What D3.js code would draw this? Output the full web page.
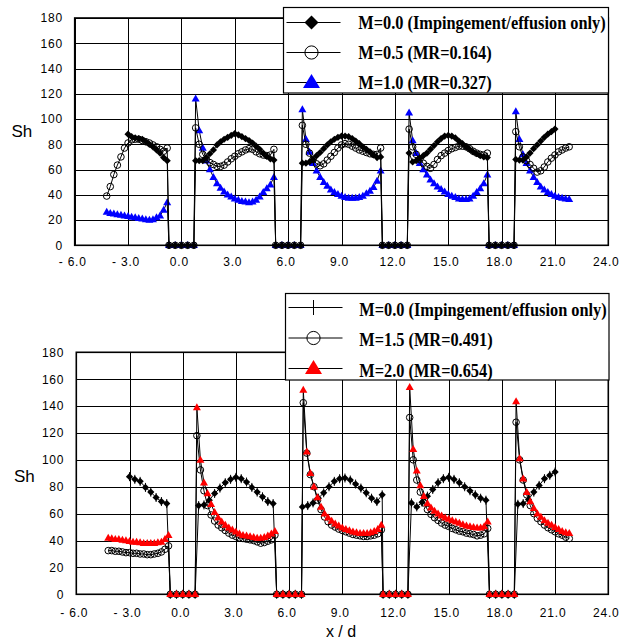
<!DOCTYPE html>
<html>
<head>
<meta charset="utf-8">
<script src="https://cdnjs.cloudflare.com/ajax/libs/d3/7.8.5/d3.min.js"></script>
<style>
  body { margin: 0; background: #fff; }
  svg { display: block; }
  .axis text { font-family: "Liberation Sans", Arial, sans-serif; font-size: 12px; letter-spacing: 0.8px; fill: #000; }
  .axis line { stroke: #000; stroke-width: 1; shape-rendering: crispEdges; }
  .axis path.domain { display: none; }
  .axis-title { font-family: "Liberation Sans", Arial, sans-serif; font-size: 17px; fill: #000; }
  .legend-text { font-family: "Liberation Serif", "Times New Roman", serif; font-weight: bold; font-size: 18px; fill: #000; }
</style>
</head>
<body>
<div id="chart-area"></div>
<script>
// axis ticks
var xTicks = [-6, -3, 0, 3, 6, 9, 12, 15, 18, 21, 24];
var xTickLabels = ["- 6.0", "- 3.0", "0.0", "3.0", "6.0", "9.0", "12.0", "15.0", "18.0", "21.0", "24.0"];
var yTicks = [0, 20, 40, 60, 80, 100, 120, 140, 160, 180];

// stations on the walls, where Sh = 0 for every case
var wallX = [-0.7, -0.35, 0, 0.35, 0.7, 5.3, 5.65, 6, 6.35, 6.7,
             11.3, 11.65, 12, 12.35, 12.7, 17.3, 17.65, 18, 18.35, 18.7];

// station spacing along x/d
var step = 0.2;
var stepSparse = 0.3;

// upper chart
var topLegend = ["M=0.0 (Impingement/effusion only)", "M=0.5 (MR=0.164)", "M=1.0 (MR=0.327)"];

var topM00 = [
  {x0: -3.0, sh: [88, 86, 85, 84.5, 84, 82, 80, 78, 75.5, 73, 69.5, 67]},
  {x0: 0.8, sh: [67, 67, 67, 69.5, 72.5, 75.5, 79.5, 82, 84, 85.5, 87, 88.5, 87.5, 86, 84.5, 83, 81, 78.5, 76, 73, 70.5, 68.5, 67.5]},
  {x0: 6.8, sh: [65, 65, 66, 68, 71, 73.5, 76.5, 79.5, 82, 84, 85.5, 86.5, 86.5, 86, 84.5, 82.5, 80.5, 78, 76, 74, 71.5, 69.5, 70]},
  {x0: 12.8, sh: [73, 66, 67, 69, 71, 73, 76, 79, 82, 84.5, 86.5, 87, 86.5, 85, 82.5, 80.5, 78, 76, 74, 72.5, 71, 70, 69.5]},
  {x0: 18.8, sh: [68, 67.5, 67.5, 70, 73, 76.5, 79.5, 82.5, 85.5, 88, 90, 92]}
];
var topM05 = [
  {x0: -4.2, sh: [39, 46.5, 56, 63.5, 70, 77, 81, 83.5, 84, 84, 83, 82, 81, 79.5, 78, 76, 74.5, 77]},
  {x0: 0.8, sh: [93, 80, 72, 68, 65.5, 64, 62.5, 62.5, 63.5, 66, 68.5, 70.5, 72.5, 74, 75.5, 76.5, 76, 74, 72.5, 71.5, 71, 71.5, 76]},
  {x0: 6.8, sh: [95, 80, 73, 68, 64.5, 63, 64.5, 67.5, 70.5, 73.5, 77, 79.5, 80.5, 80, 78.5, 77, 75.5, 74.5, 73.5, 72.5, 72, 72, 77]},
  {x0: 12.8, sh: [92, 78, 72, 68, 65, 62.5, 61, 64, 68, 71, 73, 75, 76.5, 77.5, 78.5, 78.5, 78, 76.5, 74.5, 73, 72, 71.5, 73]},
  {x0: 18.8, sh: [90, 78, 70, 67, 64, 61, 58, 59, 62, 66, 69, 71.5, 74, 75.5, 77, 78]}
];
var topM10 = [
  {x0: -4.2, sh: [26.5, 25.5, 25, 24.5, 24, 23.5, 23, 22.5, 22, 21.5, 21, 20.5, 20, 20.5, 22, 23.5, 28, 34]},
  {x0: 0.8, sh: [116, 91, 77, 67, 60, 54, 49, 45.5, 42.5, 40, 38.5, 37, 36, 35, 34.5, 34, 34.5, 36, 38.5, 42, 45, 48, 54]},
  {x0: 6.8, sh: [107.5, 84, 74, 65, 59, 54, 50, 47, 44, 42, 40.5, 39, 38, 37.5, 37.5, 37.5, 38, 39, 41, 43, 46, 51, 59]},
  {x0: 12.8, sh: [105, 83, 73, 65, 60, 56, 52, 49, 46.5, 44.5, 42.5, 40.5, 39, 38, 37, 36.5, 36.5, 37, 39, 42, 45, 49, 56]},
  {x0: 18.8, sh: [106, 84, 72, 65, 59, 54, 50, 46.5, 44, 42, 40.5, 39, 38, 37.5, 37, 36.5]}
];

// lower chart
var bottomLegend = ["M=0.0 (Impingement/effusion only)", "M=1.5 (MR=0.491)", "M=2.0 (MR=0.654)"];

var botM00 = [
  {x0: -3.0, sh: [87.5, 85.5, 84, 79.5, 76, 72, 69, 67.5]},
  {x0: 0.9, sh: [66, 66.5, 70, 75, 79, 83, 85.5, 87, 86, 83.5, 79.5, 76, 72.5, 69, 67.5]},
  {x0: 6.75, sh: [65, 66, 68, 71.5, 75.5, 80, 84, 86, 86.5, 85, 82, 79, 75.5, 71.5, 69, 74]},
  {x0: 12.9, sh: [68, 65, 68.5, 73, 78, 83, 86, 87, 85.5, 83, 80, 77, 74, 71.5, 70]},
  {x0: 18.9, sh: [67, 67.5, 70.5, 76, 81, 86, 88.5, 91]}
];
var botM15 = [
  {x0: -4.2, sh: [32.5, 32.5, 32, 32, 31.5, 31, 31, 30.5, 30.5, 30, 30, 29.5, 29.5, 30, 30.5, 31.5, 33.5, 36]},
  {x0: 0.8, sh: [118, 92.5, 77, 66, 59, 54.5, 51.5, 49.5, 47.5, 45.5, 44, 43, 42, 41.5, 41, 40.5, 40, 39, 38, 38.5, 39.5, 40.5, 44]},
  {x0: 6.8, sh: [142.5, 105, 89, 80, 70, 63, 57.5, 54, 51.5, 50, 48.5, 47.5, 46.5, 45.5, 44.5, 44, 43.5, 43, 43, 43.5, 44, 45, 48]},
  {x0: 12.8, sh: [131.5, 100, 85, 76, 68, 63, 59.5, 57, 55, 53, 51.5, 50.5, 49, 48, 47, 46.5, 45.5, 45, 44.5, 43.5, 44, 45, 49]},
  {x0: 18.8, sh: [128, 100, 85, 74, 66, 60, 56.5, 54, 51.5, 49.5, 48, 46.5, 45, 44, 42.5, 41.5]}
];
var botM20 = [
  {x0: -4.2, sh: [42, 41.5, 41, 41, 40.5, 40, 39.5, 39, 39, 38.5, 38, 38, 38, 38, 38.5, 39, 41, 44]},
  {x0: 0.8, sh: [139, 100, 83, 75, 67, 61, 57, 54, 51.5, 49.5, 48, 46.5, 45, 44, 43.5, 43, 42.5, 42, 42, 42.5, 43.5, 45, 47]},
  {x0: 6.8, sh: [152, 106, 90, 80, 72, 65, 60, 57, 54.5, 52.5, 51, 49.5, 48.5, 47.5, 46.5, 46, 45.5, 45.5, 45.5, 46, 47, 48.5, 51.5]},
  {x0: 12.8, sh: [154, 108, 92, 81, 73, 67.5, 64.5, 62, 60, 58.5, 57, 56, 55, 54, 53, 52, 51, 50.5, 50, 49.5, 49.5, 50.5, 54]},
  {x0: 18.8, sh: [143.5, 101, 86, 76, 69, 64, 60, 57.5, 55, 53, 51.5, 50, 48.5, 47, 46, 45.5]}
];

// turn the segments into one sorted list of points, walls included
function buildPoints(segs, dx) {
  var pts = [];
  segs.forEach(function(s) {
    s.sh.forEach(function(v, i) {
      pts.push({x: +(s.x0 + i * dx).toFixed(2), y: v});
    });
  });
  wallX.forEach(function(w) { pts.push({x: w, y: 0}); });
  pts.sort(function(a, b) { return a.x - b.x; });
  return pts;
}

var svg = d3.select("#chart-area")
  .append("svg")
  .attr("width", 631)
  .attr("height", 641);

function diamondPath(s) {
  return "M0," + (-s) + "L" + s + ",0L0," + s + "L" + (-s) + ",0Z";
}
function trianglePath(w, h) {
  return "M0," + (-h * 0.6) + "L" + (w / 2) + "," + (h * 0.4) + "L" + (-w / 2) + "," + (h * 0.4) + "Z";
}

function addMarker(sel, kind, big) {
  if (kind === "diamond") {
    sel.append("path").attr("d", diamondPath(big ? 7 : 3.6)).attr("fill", "#000");
  } else if (kind === "plus") {
    if (!big) sel.append("path").attr("d", diamondPath(3.6)).attr("fill", "#000");
    sel.append("line")
      .attr("y1", big ? -7.5 : -4.5).attr("y2", big ? 7.5 : 4.5)
      .attr("stroke", "#000").attr("stroke-width", 1);
  } else if (kind === "circle") {
    sel.append("circle").attr("r", big ? 6.6 : 3.3)
      .attr("fill", "none").attr("stroke", "#000").attr("stroke-width", 1);
  } else {
    sel.append("path")
      .attr("d", big ? trianglePath(17, 14) : trianglePath(8, 7))
      .attr("fill", kind === "blueTri" ? "#0000ff" : "#ff0000");
  }
}

function drawPanel(p) {
  var x = d3.scaleLinear().domain([-6, 24]).range([p.left, p.right]);
  var y = d3.scaleLinear().domain([0, 180]).range([p.bottom, p.top]);
  var g = svg.append("g");

  // grid + tick labels
  g.append("g")
    .attr("class", "axis")
    .attr("transform", "translate(" + p.left + ",0)")
    .call(d3.axisLeft(y).tickValues(yTicks).tickSize(-(p.right - p.left)).tickPadding(p.yPad));

  var xa = g.append("g")
    .attr("class", "axis")
    .attr("transform", "translate(0," + p.bottom + ")")
    .call(d3.axisBottom(x).tickValues(xTicks).tickSize(-(p.bottom - p.top)).tickPadding(p.xPad)
      .tickFormat(function(d, i) { return xTickLabels[i]; }));
  xa.selectAll("text").attr("dx", -2.5);

  // plot frame
  g.append("rect")
    .attr("x", p.left).attr("y", p.top)
    .attr("width", p.right - p.left).attr("height", p.bottom - p.top)
    .attr("fill", "none").attr("stroke", "#000").attr("stroke-width", 1.6);

  // series: black connecting line, then markers
  p.series.forEach(function(s) {
    var pts = buildPoints(s.segs, s.dx);
    g.append("path")
      .datum(pts)
      .attr("d", d3.line().x(function(d) { return x(d.x); }).y(function(d) { return y(d.y); }))
      .attr("fill", "none").attr("stroke", "#000").attr("stroke-width", 1);
    var m = g.selectAll(null).data(pts).enter().append("g")
      .attr("transform", function(d) { return "translate(" + x(d.x) + "," + y(d.y) + ")"; });
    addMarker(m, s.kind, false);
  });

  // legend box
  var L = p.legend;
  g.append("rect")
    .attr("x", L.x).attr("y", L.y).attr("width", L.w).attr("height", L.h)
    .attr("fill", "#fff").attr("stroke", "#000").attr("stroke-width", 1.2);
  L.labels.forEach(function(t, i) {
    var cy = L.rows[i];
    g.append("line")
      .attr("x1", L.x + 3).attr("x2", L.x + 57).attr("y1", cy).attr("y2", cy)
      .attr("stroke", "#000").attr("stroke-width", 1);
    var mk = g.append("g").attr("transform", "translate(" + (L.x + 28) + "," + cy + ")");
    addMarker(mk, L.kinds[i], true);
    var txt = g.append("text")
      .attr("class", "legend-text")
      .attr("x", L.textX).attr("y", cy + L.base)
      .text(t);
    var w = txt.node().getComputedTextLength();
    txt.attr("textLength", w * 0.907).attr("lengthAdjust", "spacingAndGlyphs");
  });

  // axis title
  g.append("text").attr("class", "axis-title")
    .attr("x", p.shX).attr("y", p.shY).text("Sh");
}

drawPanel({
  left: 74.7, right: 608.3, top: 18, bottom: 245.3, yPad: 11.7, xPad: 12,
  shX: 11.5, shY: 136.5,
  series: [
    {segs: topM10, dx: step, kind: "blueTri"},
    {segs: topM05, dx: step, kind: "circle"},
    {segs: topM00, dx: step, kind: "diamond"}
  ],
  legend: {x: 283.5, y: 7.5, w: 325, h: 85.5, textX: 358.3, rows: [22.5, 52.5, 82.5], base: 6.8,
           labels: topLegend, kinds: ["diamond", "circle", "blueTri"]}
});

drawPanel({
  left: 76.3, right: 608.3, top: 352.3, bottom: 594.3, yPad: 12, xPad: 14,
  shX: 14, shY: 481.5,
  series: [
    {segs: botM00, dx: stepSparse, kind: "plus"},
    {segs: botM15, dx: step, kind: "circle"},
    {segs: botM20, dx: step, kind: "redTri"}
  ],
  legend: {x: 285.5, y: 293.5, w: 323.5, h: 86.5, textX: 359.3, rows: [307.5, 338, 368.5], base: 8,
           labels: bottomLegend, kinds: ["plus", "circle", "redTri"]}
});

svg.append("text").attr("class", "axis-title")
  .attr("x", 341).attr("y", 637).attr("text-anchor", "middle")
  .style("font-size", "16px")
  .text("x / d");
</script>
</body>
</html>
